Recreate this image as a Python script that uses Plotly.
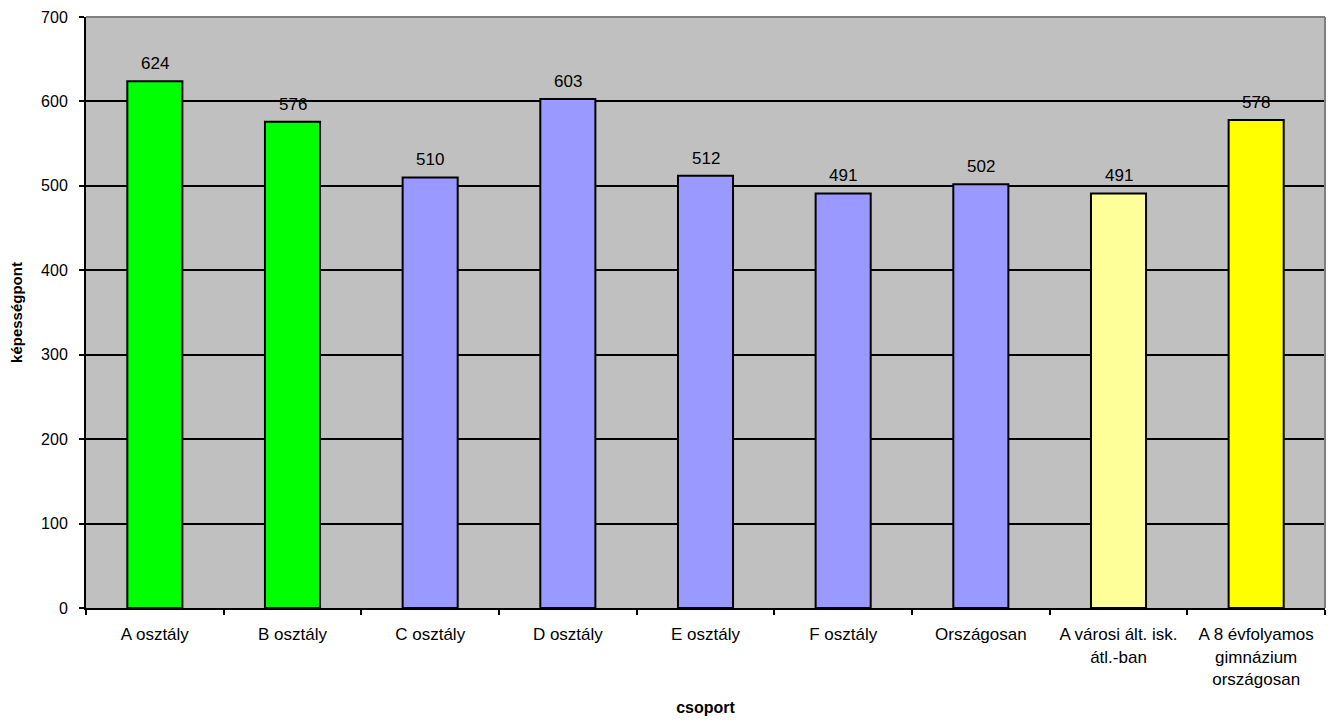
import plotly.graph_objects as go

categories = ["A osztály", "B osztály", "C osztály", "D osztály", "E osztály",
              "F osztály", "Országosan", "A városi ált. isk.<br>átl.-ban",
              "A 8 évfolyamos<br>gimnázium<br>országosan"]
values = [624, 576, 510, 603, 512, 491, 502, 491, 578]
colors = ["#00FF00", "#00FF00", "#9999FF", "#9999FF", "#9999FF",
          "#9999FF", "#9999FF", "#FFFF99", "#FFFF00"]
y_ticks = [0, 100, 200, 300, 400, 500, 600, 700]

FONT = "Liberation Sans, Arial, sans-serif"

fig = go.Figure()
fig.add_trace(go.Bar(
    x=categories, y=values,
    marker=dict(color=colors, line=dict(color="black", width=2)),
    width=0.4,
    hoverinfo="x+y",
))

annotations = [
    dict(x=c, y=v, xref="x", yref="y", text=str(v), showarrow=False,
         yanchor="bottom", yshift=6,
         font=dict(family=FONT, size=17, color="black"))
    for c, v in zip(categories, values)
]

fig.update_layout(
    width=1320, height=708,
    margin=dict(l=78, r=3, t=9, b=108),
    paper_bgcolor="white", plot_bgcolor="#C0C0C0",
    showlegend=False,
    font=dict(family=FONT, size=17, color="black"),
    xaxis=dict(
        automargin=False,
        showline=True, linecolor="black", linewidth=2,
        ticks="outside", ticklen=5, tickwidth=2, tickcolor="black",
        tickson="boundaries", showgrid=False,
        tickfont=dict(size=17), ticklabelstandoff=10,
        title=dict(text="<b>csoport</b>", font=dict(size=16), standoff=24),
    ),
    yaxis=dict(
        automargin=False,
        range=[0, 700], tickvals=y_ticks, ticktext=[str(t) for t in y_ticks],
        showline=True, linecolor="black", linewidth=2,
        ticks="outside", ticklen=5, tickwidth=2, tickcolor="black",
        showgrid=True, gridcolor="black", gridwidth=2,
        zeroline=False, tickfont=dict(size=16), ticklabelstandoff=8,
        title=dict(text="<b>képességpont</b>", font=dict(size=15), standoff=16),
    ),
    annotations=annotations,
    shapes=[
        dict(type="line", xref="paper", yref="paper", x0=0, x1=1, y0=1, y1=1,
             line=dict(color="#808080", width=2)),
        dict(type="line", xref="paper", yref="paper", x0=1, x1=1, y0=0, y1=1,
             line=dict(color="#808080", width=2)),
    ],
)

fig.write_html("out.html")
